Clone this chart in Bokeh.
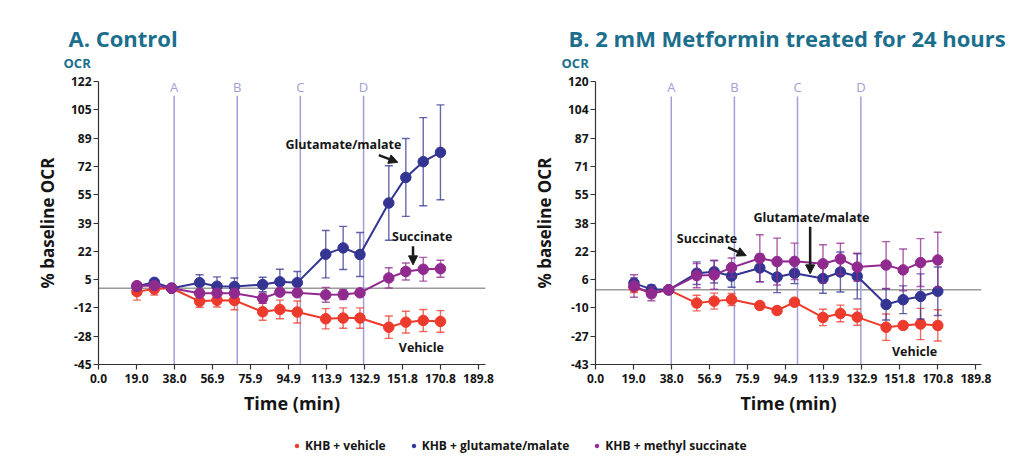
import numpy as np
from bokeh.plotting import figure
from bokeh.models import (ColumnDataSource, FixedTicker, Span, Arrow, NormalHead,
                          Legend, LegendItem, Range1d)
from bokeh.layouts import row, column
from bokeh.embed import file_html
from bokeh.resources import INLINE
from bokeh.core.properties import value

FONT = "Open Sans"
TEAL = "#1b6f8d"
EVENT_COLOR = "#a0a0d6"
INK = "#151515"

# ---------------- data ----------------
time_min = [19.2, 27.9, 36.5, 50.5, 59.2, 67.9, 82.0, 90.6, 99.3,
            113.5, 122.2, 130.6, 145.0, 153.5, 162.2, 170.8]

series_names = ["KHB + vehicle", "KHB + glutamate/malate", "KHB + methyl succinate"]
series_colors = ["#ec3a2c", "#343493", "#912a8f"]

# A. Control
ctrl_vehicle = [-2.0, -0.5, 0.0, -7.7, -7.1, -7.2, -13.9, -12.5, -14.0,
                -18.0, -17.6, -17.6, -23.0, -20.0, -19.0, -19.6]
ctrl_vehicle_err = [5.0, 3.5, 0.0, 3.5, 4.0, 5.5, 5.0, 5.5, 6.5,
                    6.0, 6.0, 6.0, 6.6, 6.4, 6.5, 6.4]
ctrl_glut = [1.2, 3.5, 0.0, 3.3, 1.2, 1.0, 2.2, 3.8, 3.3,
             20.1, 23.8, 19.9, 50.3, 65.4, 74.7, 80.2]
ctrl_glut_err = [1.5, 1.5, 0.0, 4.7, 5.5, 5.0, 4.3, 7.4, 6.6,
                 14.0, 12.7, 13.0, 22.0, 23.0, 26.0, 28.0]
ctrl_succ = [1.5, 1.6, 0.0, -2.9, -2.9, -2.9, -5.9, -2.3, -2.7,
             -3.9, -3.7, -2.7, 6.1, 9.9, 11.2, 11.5]
ctrl_succ_err = [1.5, 1.5, 0.0, 1.5, 1.5, 1.5, 3.0, 1.5, 1.5,
                 4.4, 3.0, 1.5, 6.0, 5.0, 7.0, 5.0]

# B. 2 mM Metformin treated for 24 hours
met_vehicle = [1.5, -1.5, 0.0, -7.6, -6.5, -5.6, -9.0, -11.9, -7.1,
               -15.9, -13.6, -15.7, -21.5, -20.5, -19.7, -20.5]
met_vehicle_err = [3.0, 2.5, 0.0, 4.5, 4.6, 3.5, 1.5, 1.5, 1.5,
                   4.7, 4.8, 4.7, 7.6, 2.0, 9.0, 9.0]
met_glut = [3.9, 0.3, 0.0, 9.6, 10.4, 8.0, 12.6, 7.4, 9.6,
            6.5, 10.3, 7.8, -8.4, -5.7, -3.8, -0.8]
met_glut_err = [3.0, 2.5, 0.0, 6.5, 6.5, 6.5, 8.0, 9.0, 6.0,
                8.5, 11.5, 13.0, 9.0, 8.0, 13.0, 14.0]
met_succ = [2.2, -2.3, 0.0, 8.2, 8.6, 12.8, 18.2, 16.3, 16.4,
            15.0, 17.8, 13.1, 14.3, 11.5, 15.7, 17.2]
met_succ_err = [6.5, 4.0, 0.0, 7.0, 8.3, 5.5, 13.5, 13.5, 10.5,
                11.0, 9.0, 8.0, 13.5, 12.0, 13.8, 16.0]

x_tick_labels = ["0.0", "19.0", "38.0", "56.9", "75.9", "94.9", "113.9",
                 "132.9", "151.8", "170.8", "189.8"]
ctrl_y_tick_labels = ["-45", "-28", "-12", "5", "22", "39", "55", "72", "89", "105", "122"]
met_y_tick_labels = ["-43", "-27", "-10", "6", "22", "38", "55", "71", "87", "104", "120"]

event_labels = ["A", "B", "C", "D"]
event_times = [37.8, 69.3, 100.8, 132.4]

panel_titles = ["A. Control", "B. 2 mM Metformin treated for 24 hours"]
ocr_labels = ["OCR", "OCR"]

ctrl_notes = [("Glutamate/malate", 93.4, 84.7), ("Succinate", 146.6, 30.7), ("Vehicle", 150.0, -34.7)]
ctrl_arrows = [(140.0, 78.6, 149.5, 74.3), (157.1, 24.8, 157.1, 13.8)]
met_notes = [("Succinate", 40.6, 29.6), ("Glutamate/malate", 78.8, 41.6), ("Vehicle", 147.9, -35.4)]
met_arrows = [(66.1, 24.4, 75.2, 19.7), (107.1, 36.3, 107.1, 9.2)]

W = 1011
HEAD_H = 72
PANEL_H = 360
LEG_H = 24


def make_panel(series, errors, ylabels, ymin, ymax, xmax,
               width, bl, br, bt, frame_h, notes, arrows, ev_top, ev_label_y):
    p = figure(width=width, height=PANEL_H,
               x_range=Range1d(0, xmax), y_range=Range1d(ymin, ymax),
               toolbar_location=None, output_backend="svg",
               min_border_left=bl, min_border_right=br, min_border_top=bt,
               min_border_bottom=PANEL_H - bt - frame_h)
    p.outline_line_color = None
    p.grid.visible = False
    p.background_fill_color = "white"
    p.border_fill_color = "white"

    for ax in (p.xaxis[0], p.yaxis[0]):
        ax.axis_line_color = "#333333"
        ax.axis_line_width = 1.2
        ax.major_tick_line_color = "#333333"
        ax.major_tick_line_width = 1.2
        ax.major_tick_out = 5
        ax.major_tick_in = 0
        ax.minor_tick_line_color = None
        ax.major_label_text_font = FONT
        ax.major_label_text_font_style = "bold"
        ax.major_label_text_font_size = "12px"
        ax.major_label_text_color = INK
        ax.axis_label_text_font = FONT
        ax.axis_label_text_font_style = "bold"
        ax.axis_label_text_color = INK

    xt = [float(s) for s in x_tick_labels]
    p.xaxis.ticker = FixedTicker(ticks=xt)
    p.xaxis.major_label_overrides = {v: s for v, s in zip(xt, x_tick_labels)}
    p.xaxis.axis_label = "Time (min)"
    p.xaxis.axis_label_text_font_size = "18px"
    p.xaxis.axis_label_standoff = 5
    p.xaxis.major_label_standoff = 4

    yt = [float(v) for v in np.linspace(ymin, ymax, len(ylabels))]
    p.yaxis.ticker = FixedTicker(ticks=yt)
    p.yaxis.major_label_overrides = {v: s for v, s in zip(yt, ylabels)}
    p.yaxis.axis_label = "% baseline OCR"
    p.yaxis.axis_label_text_font_size = "17px"
    p.yaxis.axis_label_standoff = 9
    p.yaxis.major_label_standoff = 2

    # event injection lines
    p.segment(x0=event_times, y0=[ymin] * len(event_times), x1=event_times,
              y1=[ev_top] * len(event_times), line_color=EVENT_COLOR, line_width=1.5)
    p.text(x=event_times, y=[ev_label_y] * len(event_times), text=event_labels,
           text_align="center", text_baseline="middle", text_font=value(FONT),
           text_font_size="13px", text_color=EVENT_COLOR)

    p.add_layout(Span(location=0, dimension="width", line_color="#9a9a9a",
                      line_width=1.5, level="underlay"))

    for vals, errs, col in zip(series, errors, series_colors):
        lo = [v - e for v, e in zip(vals, errs)]
        hi = [v + e for v, e in zip(vals, errs)]
        src = ColumnDataSource(dict(t=time_min, v=vals, lo=lo, hi=hi))
        p.segment(x0="t", y0="lo", x1="t", y1="hi", source=src, line_color=col,
                  line_alpha=0.75, line_width=1.4)
        p.scatter(x="t", y="hi", source=src, marker="dash", size=8, line_color=col,
                  line_alpha=0.75, line_width=1.4)
        p.scatter(x="t", y="lo", source=src, marker="dash", size=8, line_color=col,
                  line_alpha=0.75, line_width=1.4)
        p.line(x="t", y="v", source=src, line_color=col, line_width=2)
        p.scatter(x="t", y="v", source=src, size=10.5, fill_color=col, line_color=col)

    p.text(x=[n[1] for n in notes], y=[n[2] for n in notes], text=[n[0] for n in notes],
           text_align="left", text_baseline="middle", text_font=value(FONT),
           text_font_size="12.5px", text_font_style="bold", text_color=INK)
    for (x0, y0, x1, y1) in arrows:
        p.add_layout(Arrow(x_start=x0, y_start=y0, x_end=x1, y_end=y1,
                           line_color="#1a1a1a", line_width=2.5,
                           end=NormalHead(size=9, fill_color="#1a1a1a", line_color="#1a1a1a")))
    return p


# header strip with the panel titles (pixel-based ranges, y downwards)
head = figure(width=W, height=HEAD_H, toolbar_location=None, output_backend="svg",
              x_range=Range1d(0, W), y_range=Range1d(HEAD_H, 0),
              x_axis_location=None, y_axis_location=None, min_border=0)
head.outline_line_color = None
head.grid.visible = False
head.text(x=[68, 568], y=[37, 37], text=panel_titles, text_align="left",
          text_baseline="alphabetic", text_font=value(FONT), text_font_size="22px",
          text_font_style="bold", text_color=TEAL)
head.text(x=[63, 561], y=[62, 62], text=ocr_labels, text_align="left",
          text_baseline="alphabetic", text_font=value(FONT), text_font_size="13px",
          text_font_style="bold", text_color=TEAL)

left = make_panel([ctrl_vehicle, ctrl_glut, ctrl_succ],
                  [ctrl_vehicle_err, ctrl_glut_err, ctrl_succ_err],
                  ctrl_y_tick_labels, -45, 122, 193.3,
                  505, 98, 20, 9, 283, ctrl_notes, ctrl_arrows, 113.6, 118.9)

right = make_panel([met_vehicle, met_glut, met_succ],
                   [met_vehicle_err, met_glut_err, met_succ_err],
                   met_y_tick_labels, -43, 120, 192.6,
                   506, 90, 30, 8, 284, met_notes, met_arrows, 111.4, 116.6)

leg = figure(width=W, height=LEG_H, toolbar_location=None, output_backend="svg",
             x_range=Range1d(0, 1), y_range=Range1d(0, 1),
             x_axis_location=None, y_axis_location=None, min_border=0)
leg.outline_line_color = None
leg.grid.visible = False
items = []
for name, col in zip(series_names, series_colors):
    r = leg.scatter(x=[-5], y=[-5], size=7, fill_color=col, line_color=col)
    items.append(LegendItem(label=name, renderers=[r]))
legend = Legend(items=items, orientation="horizontal", location=(292, 2),
                border_line_color=None, background_fill_alpha=0,
                label_text_font=FONT, label_text_font_size="12px",
                label_text_font_style="bold", label_text_color=INK,
                glyph_width=9, glyph_height=9, label_standoff=4, spacing=23,
                padding=0, margin=0, label_height=14)
leg.add_layout(legend, "center")

layout = column(head, row(left, right), leg)
open("out.html", "w").write(file_html(layout, INLINE))
